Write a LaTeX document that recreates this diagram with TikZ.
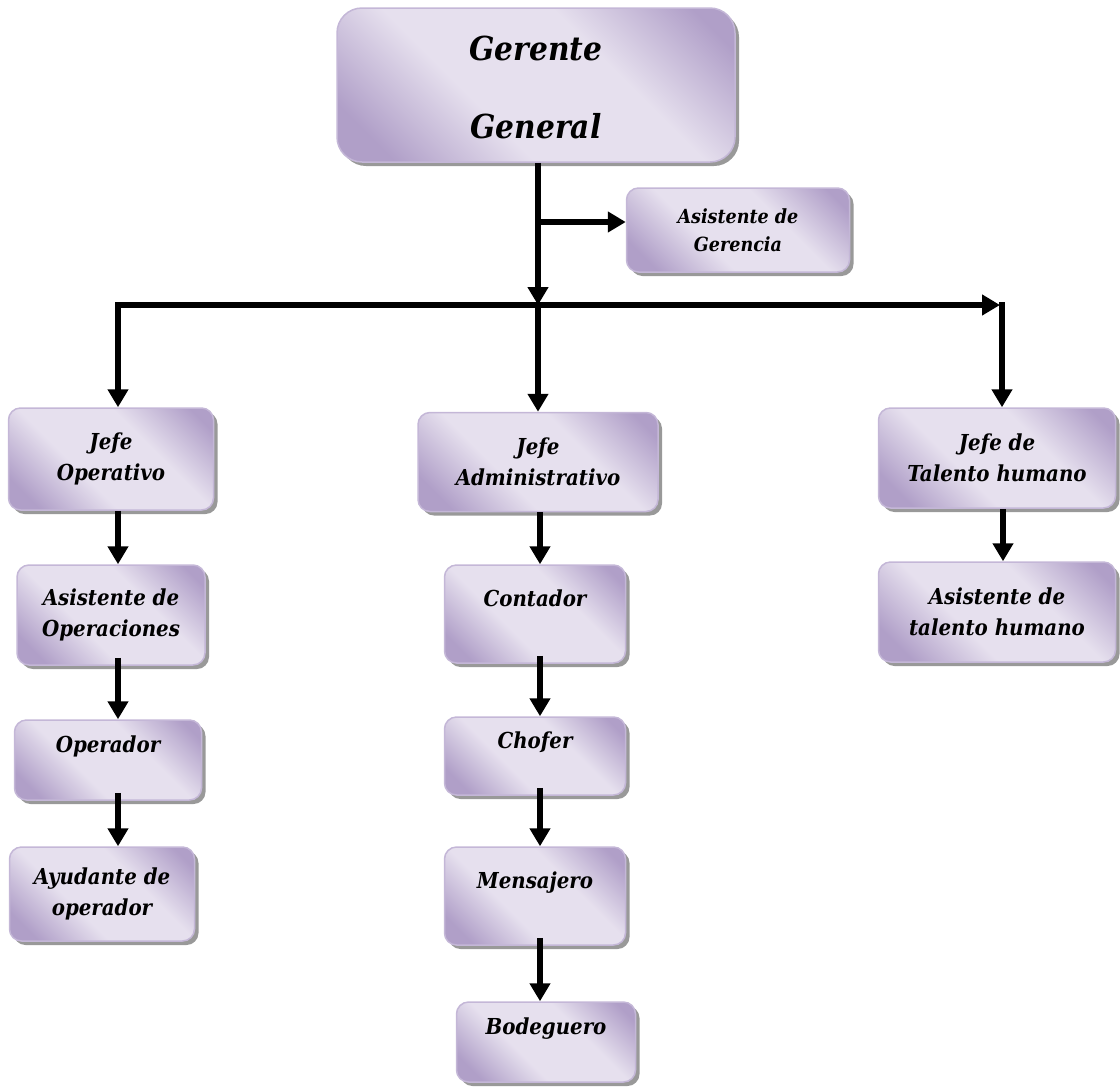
\documentclass[tikz,border=0pt]{standalone}
\usepackage{fontspec}
\setmainfont{DejaVu Serif Condensed}
\usetikzlibrary{arrows.meta,shadows,positioning}
\definecolor{lavdark}{HTML}{B09FC8}
\definecolor{lavlight}{HTML}{E6E0EE}
\definecolor{lavedge}{HTML}{C4B7D7}
\pgfdeclarehorizontalshading{lavshade}{100bp}{color(0bp)=(lavdark); color(22bp)=(lavdark); color(40bp)=(lavlight); color(62bp)=(lavlight); color(80bp)=(lavdark); color(100bp)=(lavdark)}

\begin{document}
\begin{tikzpicture}[x=1pt,y=-1pt,
    puesto/.style={draw=lavedge,line width=1.5pt,rounded corners=12pt,
      shading=lavshade,shading angle=45,
      drop shadow={shadow xshift=4pt,shadow yshift=-4pt,fill=gray,opacity=0.8},
      align=center,inner sep=0pt,
      font=\fontsize{22}{31}\selectfont\bfseries\itshape},
    flecha/.style={line width=6pt,-{Triangle[length=18pt,width=20pt]}}]
  \useasboundingbox (0,0) rectangle (1120,1088);

  % cajas
  \node[puesto,rounded corners=25pt,minimum width=398pt,minimum height=154pt,
    font=\fontsize{33}{44}\selectfont\bfseries\itshape] (gerente) at (536,85)
    {\rule{0pt}{30pt}Gerente\\[34pt]General};
  \node[puesto,minimum width=223pt,minimum height=84pt,
    font=\fontsize{19.5}{28}\selectfont\bfseries\itshape] (asisger) at (738,230)
    {Asistente de\\Gerencia};
  \node[puesto,minimum width=205pt,minimum height=102pt] (jefeop) at (111,459)
    {Jefe\\Operativo};
  \node[puesto,minimum width=240pt,minimum height=99pt] (jefeadm) at (538,462)
    {Jefe\\Administrativo};
  \node[puesto,minimum width=237pt,minimum height=100pt] (jefeth) at (997,458)
    {Jefe de\\Talento humano};
  \node[puesto,minimum width=188pt,minimum height=100pt] (asisop) at (111,615)
    {Asistente de\\Operaciones};
  \node[puesto,minimum width=187pt,minimum height=80pt] (operador) at (108,760)
    {Operador\\~};
  \node[puesto,minimum width=185pt,minimum height=94pt] (ayudante) at (102,894)
    {Ayudante de\\operador};
  \node[puesto,minimum width=181pt,minimum height=98pt] (contador) at (535,614)
    {Contador\\~};
  \node[puesto,minimum width=181pt,minimum height=78pt] (chofer) at (535,756)
    {Chofer\\~};
  \node[puesto,minimum width=181pt,minimum height=98pt] (mensajero) at (535,896)
    {Mensajero\\~};
  \node[puesto,minimum width=179pt,minimum height=80pt] (bodeguero) at (546,1042)
    {Bodeguero\\~};
  \node[puesto,minimum width=237pt,minimum height=100pt] (asisth) at (997,612)
    {Asistente de\\talento humano};

  % puntos de la linea de mando
  \coordinate (izq) at (118,305);
  \coordinate (centro) at (538,305);
  \coordinate (der) at (1000,305);
  \coordinate (derb) at (1002,302);
  \coordinate (rama) at (541,222);
  \coordinate (colop) at (118,0);
  \coordinate (colad) at (540,0);
  \coordinate (colth) at (1003,0);

  % conectores
  \draw[flecha] (gerente.south -| centro) -- (centro);
  \draw[flecha] (rama) -- (rama -| asisger.west);
  \draw[flecha] ([xshift=-3pt]izq) -- (der);
  \draw[flecha] (izq) -- (izq |- jefeop.north);
  \draw[flecha] (centro) -- (centro |- jefeadm.north);
  \draw[flecha] (derb) -- (derb |- jefeth.north);

  \draw[flecha] (colop |- jefeop.south) -- (colop |- asisop.north);
  \draw[flecha] ([yshift=8pt]colop |- asisop.south) -- (colop |- operador.north);
  \draw[flecha] ([yshift=8pt]colop |- operador.south) -- (colop |- ayudante.north);

  \draw[flecha] (colad |- jefeadm.south) -- (colad |- contador.north);
  \draw[flecha] ([yshift=8pt]colad |- contador.south) -- (colad |- chofer.north);
  \draw[flecha] ([yshift=8pt]colad |- chofer.south) -- (colad |- mensajero.north);
  \draw[flecha] ([yshift=8pt]colad |- mensajero.south) -- (colad |- bodeguero.north);

  \draw[flecha] (colth |- jefeth.south) -- (colth |- asisth.north);
\end{tikzpicture}
\end{document}
